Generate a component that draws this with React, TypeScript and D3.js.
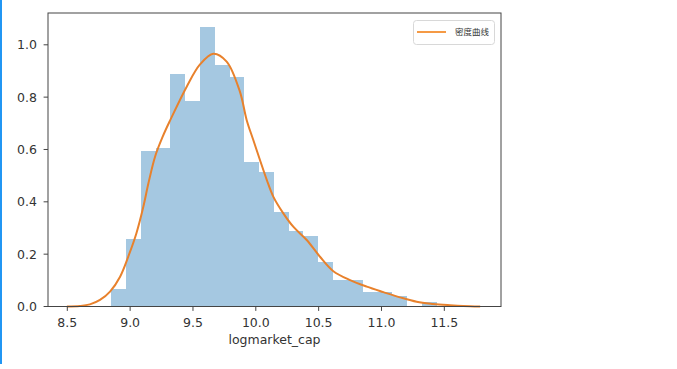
import React from "react";
import * as d3 from "d3";

const binEdges = [8.849, 8.967, 9.084, 9.202, 9.320, 9.437, 9.555, 9.673, 9.791, 9.908, 10.026, 10.144, 10.261, 10.379, 10.497, 10.614, 10.732, 10.850, 10.967, 11.085, 11.203, 11.321, 11.439];
const binDensity = [0.067, 0.258, 0.593, 0.606, 0.888, 0.786, 1.067, 0.923, 0.876, 0.551, 0.515, 0.360, 0.290, 0.268, 0.171, 0.100, 0.100, 0.057, 0.057, 0.040, 0, 0.018];

const kdeX = [8.497, 8.60, 8.68, 8.76, 8.84, 8.92, 8.99, 9.05, 9.105, 9.145, 9.20, 9.26, 9.32, 9.45, 9.556, 9.662, 9.768, 9.874, 9.927, 9.98, 10.033, 10.087, 10.139, 10.219, 10.298, 10.405, 10.511, 10.617, 10.75, 10.883, 11.015, 11.147, 11.28, 11.41, 11.545, 11.65, 11.785];
const kdeY = [0.000, 0.002, 0.008, 0.025, 0.057, 0.114, 0.197, 0.280, 0.381, 0.470, 0.575, 0.650, 0.713, 0.840, 0.925, 0.966, 0.936, 0.820, 0.713, 0.636, 0.560, 0.484, 0.420, 0.356, 0.305, 0.254, 0.190, 0.135, 0.101, 0.076, 0.055, 0.035, 0.018, 0.010, 0.005, 0.002, 0.000];

const xTicks = [8.5, 9.0, 9.5, 10.0, 10.5, 11.0, 11.5];
const yTicks = [0.0, 0.2, 0.4, 0.6, 0.8, 1.0];
const xLabel = "logmarket_cap";
const legendLabel = "密度曲线";

export default function App() {
  const left = 48, right = 501, top = 13, bottom = 306.5;
  const x = d3.scaleLinear().domain([8.3464, 11.951]).range([left, right]);
  const y = d3.scaleLinear().domain([0, 1.1215]).range([bottom, top]);
  const line = d3
    .line<number>()
    .x((_, i) => x(kdeX[i]))
    .y((d) => y(d))
    .curve(d3.curveCatmullRom.alpha(0.5));
  const font = "'DejaVu Sans', sans-serif";
  const textColor = "#333";
  const tickLen = 4.4;

  return (
    <div style={{ position: "fixed", left: 0, top: 0 }}>
      <svg width={677} height={369} style={{ display: "block" }}>
        <rect x={0} y={0} width={677} height={369} fill="#fff" />
        <rect x={0} y={0} width={2} height={364} fill="#2196F3" />
        <g shapeRendering="crispEdges">
          {binDensity.map((d, i) => (
            <rect
              key={i}
              x={x(binEdges[i])}
              width={x(binEdges[i + 1]) - x(binEdges[i])}
              y={y(d)}
              height={y(0) - y(d)}
              fill="#a5c8e1"
            />
          ))}
        </g>
        <path d={line(kdeY) || ""} fill="none" stroke="#e8812c" strokeWidth={2} />
        <rect
          x={left}
          y={top}
          width={right - left}
          height={bottom - top}
          fill="none"
          stroke="#444"
          strokeWidth={1}
        />
        {xTicks.map((t) => (
          <g key={t}>
            <line x1={x(t)} x2={x(t)} y1={bottom} y2={bottom + tickLen} stroke="#444" strokeWidth={1} />
            <text
              x={x(t)}
              y={326.5}
              textAnchor="middle"
              fontFamily={font}
              fontSize={12.5}
              fill={textColor}
            >
              {t.toFixed(1)}
            </text>
          </g>
        ))}
        {yTicks.map((t) => (
          <g key={t}>
            <line x1={left - tickLen} x2={left} y1={y(t)} y2={y(t)} stroke="#444" strokeWidth={1} />
            <text
              x={37}
              y={y(t)}
              dy="0.36em"
              textAnchor="end"
              fontFamily={font}
              fontSize={12.5}
              fill={textColor}
            >
              {t.toFixed(1)}
            </text>
          </g>
        ))}
        <text
          x={(left + right) / 2}
          y={344}
          textAnchor="middle"
          fontFamily={font}
          fontSize={12.5}
          fill={textColor}
        >
          {xLabel}
        </text>
        <rect x={413.5} y={20.5} width={81} height={24} rx={3} fill="#fff" fillOpacity={0.8} stroke="#d8d8d8" strokeWidth={1} />
        <line x1={417} x2={446} y1={32} y2={32} stroke="#f59a45" strokeWidth={2} />
        <text
          x={455}
          y={32}
          dy="0.36em"
          fontFamily="'Noto Sans CJK SC', sans-serif"
          fontSize={8.5}
          fill={textColor}
        >
          {legendLabel}
        </text>
      </svg>
    </div>
  );
}
